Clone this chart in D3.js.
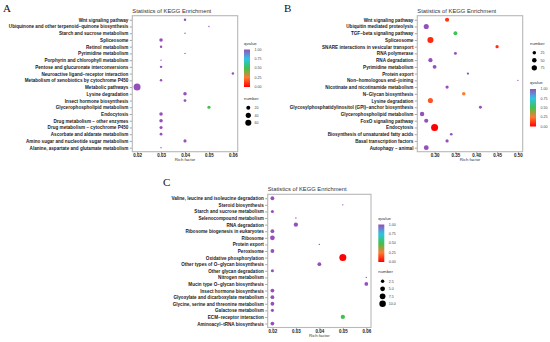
<!DOCTYPE html>
<html>
<head>
<meta charset="utf-8">
<script src="https://cdn.jsdelivr.net/npm/d3@7/dist/d3.min.js"></script>
<style>
  body { margin: 0; background: #fff; }
  text { font-family: "Liberation Sans", Arial, sans-serif; }
</style>
</head>
<body>
<svg id="chart" width="550" height="342"></svg>
<script>
// ---- Panel A ----
const pathwaysA = [
    'Wnt signaling pathway',
    'Ubiquinone and other terpenoid\u2212quinone biosynthesis',
    'Starch and sucrose metabolism',
    'Spliceosome',
    'Retinol metabolism',
    'Pyrimidine metabolism',
    'Porphyrin and chlorophyll metabolism',
    'Pentose and glucuronate interconversions',
    'Neuroactive ligand\u2212receptor interaction',
    'Metabolism of xenobiotics by cytochrome P450',
    'Metabolic pathways',
    'Lysine degradation',
    'Insect hormone biosynthesis',
    'Glycerophospholipid metabolism',
    'Endocytosis',
    'Drug metabolism \u2212 other enzymes',
    'Drug metabolism \u2212 cytochrome P450',
    'Ascorbate and aldarate metabolism',
    'Amino sugar and nucleotide sugar metabolism',
    'Alanine, aspartate and glutamate metabolism',
];
const richA = [0.04, 0.05, 0.04, 0.03, 0.03, 0.04, 0.03, 0.03, 0.06, 0.03,
    0.02, 0.04, 0.04, 0.05, 0.03, 0.03, 0.03, 0.03, 0.04, 0.03];
const qvalueA = [1, 1, 1, 1, 1, 1, 1, 1, 1, 1, 1, 1, 1, 0.5, 1, 1, 1, 1, 1, 1];
const numberA = [5, 2, 2, 14, 5, 2, 2, 5, 5, 5, 85, 14, 7, 10, 14, 14, 10, 7, 10, 2];
const sizeBreaksA = [20, 40, 60];

// ---- Panel B ----
const pathwaysB = [
    'Wnt signaling pathway',
    'Ubiquitin mediated proteolysis',
    'TGF\u2212beta signaling pathway',
    'Spliceosome',
    'SNARE interactions in vesicular transport',
    'RNA polymerase',
    'RNA degradation',
    'Pyrimidine metabolism',
    'Protein export',
    'Non\u2212homologous end\u2212joining',
    'Nicotinate and nicotinamide metabolism',
    'N\u2212Glycan biosynthesis',
    'Lysine degradation',
    'Glycosylphosphatidylinositol (GPI)\u2212anchor biosynthesis',
    'Glycerophospholipid metabolism',
    'FoxO signaling pathway',
    'Endocytosis',
    'Biosynthesis of unsaturated fatty acids',
    'Basal transcription factors',
    'Autophagy \u2212 animal',
];
const richB = [0.33, 0.28, 0.35, 0.29, 0.45, 0.35, 0.29, 0.30, 0.38, 0.50,
    0.33, 0.37, 0.29, 0.41, 0.27, 0.28, 0.30, 0.34, 0.33, 0.28];
const qvalueB = [0.1, 1, 0.52, 0.08, 0.1, 1, 1, 1, 1, 1,
    1, 0.25, 0.17, 1, 1, 1, 0, 1, 1, 1];
const numberB = [40, 68, 32, 105, 20, 15, 40, 32, 8, 4,
    20, 25, 68, 15, 48, 40, 150, 11, 20, 58];
const sizeBreaksB = [25, 50, 75];

// ---- Panel C ----
const pathwaysC = [
    'Valine, leucine and isoleucine degradation',
    'Steroid biosynthesis',
    'Starch and sucrose metabolism',
    'Selenocompound metabolism',
    'RNA degradation',
    'Ribosome biogenesis in eukaryotes',
    'Ribosome',
    'Protein export',
    'Peroxisome',
    'Oxidative phosphorylation',
    'Other types of O\u2212glycan biosynthesis',
    'Other glycan degradation',
    'Nitrogen metabolism',
    'Mucin type O\u2212glycan biosynthesis',
    'Insect hormone biosynthesis',
    'Glyoxylate and dicarboxylate metabolism',
    'Glycine, serine and threonine metabolism',
    'Galactose metabolism',
    'ECM\u2212receptor interaction',
    'Aminoacyl\u2212tRNA biosynthesis',
];
const richC = [0.02, 0.05, 0.02, 0.03, 0.03, 0.02, 0.02, 0.04, 0.02, 0.05,
    0.04, 0.02, 0.06, 0.06, 0.02, 0.02, 0.02, 0.02, 0.05, 0.02];
const qvalueC = [1, 1, 1, 1, 1, 1, 1, 1, 1, 0,
    1, 1, 1, 1, 1, 1, 1, 1, 0.5, 1];
const numberC = [3, 1, 2, 1, 4, 3, 5, 1, 3, 12,
    3, 2, 1, 3, 3, 3, 3, 2, 4, 3];
const sizeBreaksC = [2.5, 5, 7.5, 10];

const qStops = [0, 0.25, 0.5, 0.75, 1];
const qColors = ['#ff0000', '#ff7b30', '#3fc24a', '#2ec4e6', '#9650bc'];
const qTicks = [0, 0.25, 0.5, 0.75, 1];

const color = d3.scaleLinear().domain(qStops).range(qColors);
const svg = d3.select('#chart');

const defs = svg.append('defs');
const grad = defs.append('linearGradient')
    .attr('id', 'qgrad')
    .attr('x1', 0).attr('y1', 1).attr('x2', 0).attr('y2', 0);
grad.selectAll('stop')
    .data(d3.range(0, 1.0001, 0.05))
    .join('stop')
    .attr('offset', d => d)
    .attr('stop-color', d => color(d));

function drawColorbar(g, x, y) {
    g.append('text').attr('x', x).attr('y', y).attr('font-size', 4.3).attr('fill', '#333').text('qvalue');
    const top = y + 5;
    const h = 37.5;
    g.append('rect').attr('x', x).attr('y', top).attr('width', 6).attr('height', h).attr('fill', 'url(#qgrad)');
    const s = d3.scaleLinear().domain([0, 1]).range([top + h, top]);
    g.selectAll('.qt').data(qTicks).join('text')
        .attr('x', x + 10.5).attr('y', d => s(d) + 1.2)
        .attr('font-size', 3.6).attr('fill', '#444')
        .text(d => d3.format('.2f')(d));
}

function drawSizeLegend(g, x, y, breaks, rScale, fmt) {
    g.append('text').attr('x', x).attr('y', y).attr('font-size', 4.3).attr('fill', '#333').text('number');
    breaks.forEach((b, i) => {
        const cy = y + 8.3 + i * 7.5;
        g.append('circle').attr('cx', x + 4.3).attr('cy', cy).attr('r', rScale(b)).attr('fill', '#000');
        g.append('text').attr('x', x + 10.5).attr('y', cy + 1.2)
            .attr('font-size', 3.6).attr('fill', '#444').text(fmt(b));
    });
}

function drawPanel(cfg) {
    const { letter, letterPos, box, pathways, rich, qvalue, number, breaks, fmt } = cfg;
    const g = svg.append('g');

    g.append('text').attr('x', letterPos[0]).attr('y', letterPos[1])
        .style('font-family', '"Liberation Serif", "Times New Roman", serif')
        .attr('font-size', 11).attr('fill', '#111').text(letter);

    const [xmin, xmax] = d3.extent(rich);
    const pad = (xmax - xmin) * 0.05;
    const x = d3.scaleLinear().domain([xmin - pad, xmax + pad]).range([box.x0, box.x1]);
    const y = d3.scalePoint().domain(pathways).range([box.y0, box.y1]).padding(0.6);

    const [nmin, nmax] = d3.extent(number);
    const size = d3.scaleSqrt().domain([0, nmax - nmin]).range([0.7, 3.5]);
    const r = n => size(Math.max(0, n - nmin));

    g.append('rect')
        .attr('x', box.x0).attr('y', box.y0)
        .attr('width', box.x1 - box.x0).attr('height', box.y1 - box.y0)
        .attr('fill', '#fff').attr('stroke', '#b8b8b8').attr('stroke-width', 1.1);

    g.append('text')
        .attr('x', box.x0).attr('y', box.y0 - 3)
        .attr('font-size', 5.8).attr('fill', '#333')
        .text('Statistics of KEGG Enrichment');

    const yAxis = g.append('g')
        .attr('transform', `translate(${box.x0 - 0.5},0)`)
        .call(d3.axisLeft(y).tickSize(2).tickPadding(1.4));
    yAxis.select('.domain').remove();
    yAxis.selectAll('line').attr('stroke', '#444').attr('stroke-width', 0.5);
    yAxis.selectAll('text').attr('font-size', 4.6).attr('font-weight', 'bold')
        .attr('fill', '#1a1a1a').style('font-family', '"Liberation Sans", Arial, sans-serif');

    const xAxis = g.append('g')
        .attr('transform', `translate(0,${box.y1 + 0.5})`)
        .call(d3.axisBottom(x).tickValues(cfg.ticks).tickSize(1.8).tickPadding(0.2).tickFormat(d3.format('.2f')));
    xAxis.select('.domain').remove();
    xAxis.selectAll('line').attr('stroke', '#444').attr('stroke-width', 0.5);
    xAxis.selectAll('text').attr('font-size', 4.5).attr('font-weight', 'bold')
        .attr('fill', '#1a1a1a').style('font-family', '"Liberation Sans", Arial, sans-serif');

    g.append('text')
        .attr('x', (box.x0 + box.x1) / 2).attr('y', box.y1 + 9.6)
        .attr('text-anchor', 'middle').attr('font-size', 4.3).attr('fill', '#333')
        .text('Rich factor');

    const pts = pathways.map((p, i) => ({ p, x: rich[i], q: qvalue[i], n: number[i] }));
    g.append('g').selectAll('circle')
        .data(pts)
        .join('circle')
        .attr('cx', d => x(d.x))
        .attr('cy', d => y(d.p))
        .attr('r', d => r(d.n))
        .attr('fill', d => color(d.q));

    const lg = g.append('g');
    if (cfg.sizeFirst) {
        drawSizeLegend(lg, cfg.legendX, cfg.legendY1, breaks, r, fmt);
        drawColorbar(lg, cfg.legendX, cfg.legendY2);
    } else {
        drawColorbar(lg, cfg.legendX, cfg.legendY1);
        drawSizeLegend(lg, cfg.legendX, cfg.legendY2, breaks, r, fmt);
    }
}

drawPanel({
    letter: 'A', letterPos: [3, 12],
    box: { x0: 132.3, x1: 237.7, y0: 15.7, y1: 151.7 },
    pathways: pathwaysA, rich: richA, qvalue: qvalueA, number: numberA,
    ticks: [0.02, 0.03, 0.04, 0.05, 0.06],
    breaks: sizeBreaksA, fmt: d3.format('d'),
    sizeFirst: false, legendX: 244, legendY1: 44.5, legendY2: 99.5,
});

drawPanel({
    letter: 'B', letterPos: [284, 12],
    box: { x0: 417.3, x1: 522.7, y0: 15.7, y1: 151.7 },
    pathways: pathwaysB, rich: richB, qvalue: qvalueB, number: numberB,
    ticks: [0.30, 0.35, 0.40, 0.45, 0.50],
    breaks: sizeBreaksB, fmt: d3.format('d'),
    sizeFirst: true, legendX: 530, legendY1: 44.5, legendY2: 84,
});

drawPanel({
    letter: 'C', letterPos: [163, 186],
    box: { x0: 267.7, x1: 371, y0: 194.3, y1: 327.5 },
    pathways: pathwaysC, rich: richC, qvalue: qvalueC, number: numberC,
    ticks: [0.02, 0.03, 0.04, 0.05, 0.06],
    breaks: sizeBreaksC, fmt: d3.format('.1f'),
    sizeFirst: false, legendX: 378.3, legendY1: 219.5, legendY2: 273,
});
</script>
</body>
</html>
